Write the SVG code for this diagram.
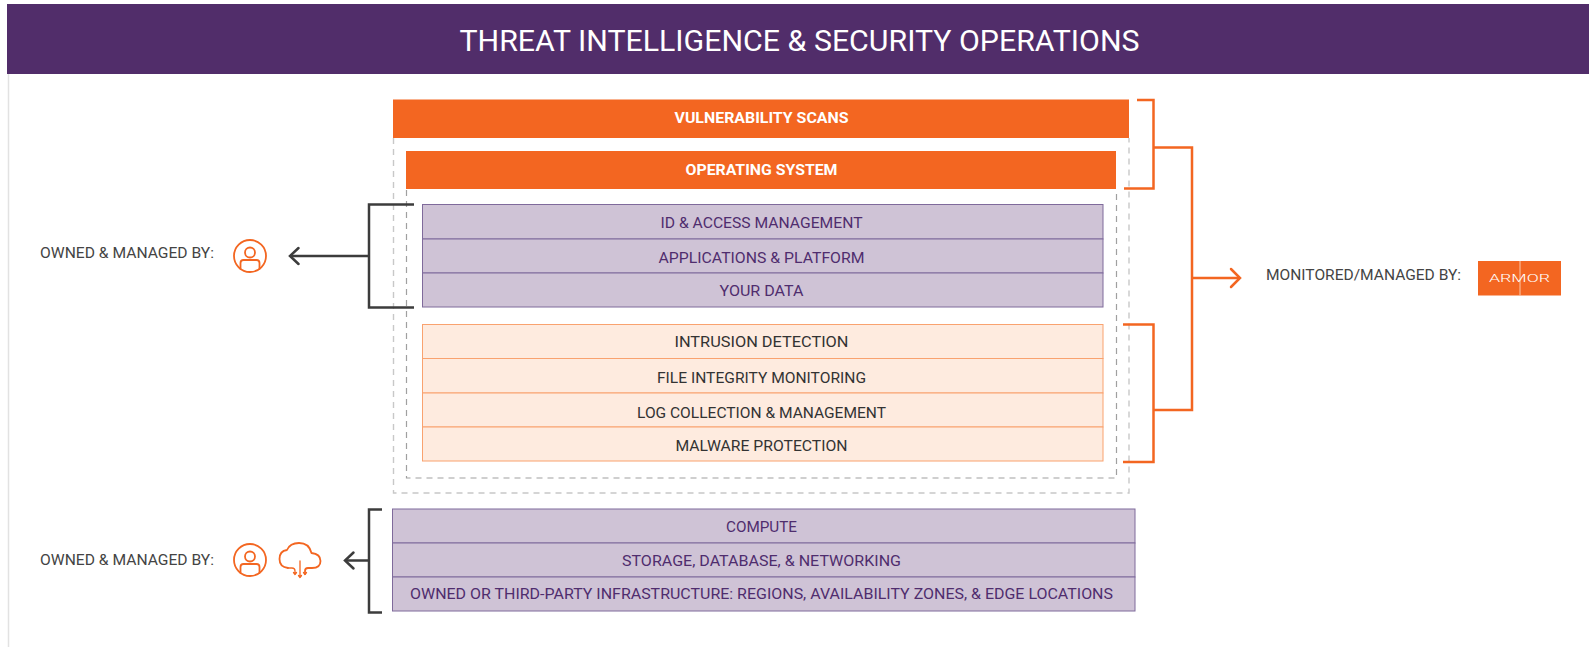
<svg xmlns="http://www.w3.org/2000/svg" width="1589" height="647" viewBox="0 0 1589 647">
<style>
text{font-family:"Roboto","Liberation Sans",sans-serif;text-anchor:middle}
.p{fill:#cfc3d6;stroke:#7f6a9b;stroke-width:1}
.o{fill:#feebdf;stroke:#f9a26f;stroke-width:1}
.pt{font-size:15px;fill:#4f2d6e}
.ot{font-size:15px;fill:#333}
.wt{font-size:15px;font-weight:700;fill:#fff}
.lb{font-size:14.500px;fill:#444;text-anchor:start}
.bk{fill:none;stroke:#3c3c3c;stroke-width:2.500}
.or{fill:none;stroke:#f36621;stroke-width:2.500}
.ic{fill:none;stroke:#f36621;stroke-width:1.800;stroke-linecap:round;stroke-linejoin:round}
.d1{fill:none;stroke:#c8c8c8;stroke-width:1.400;stroke-dasharray:6 5}
.d2{fill:none;stroke:#a0a0a0;stroke-width:1.200;stroke-dasharray:6 5}
</style>
<defs>
<g id="user"><circle r="16" cx="0" cy="0" class="ic"/><circle cx="0" cy="-3.500" r="5" class="ic"/><path class="ic" d="M-9.500 13V7Q-9.500 4 -6.500 4H6.500Q9.500 4 9.500 7V13"/></g>
</defs>
<rect width="1589" height="647" fill="#fff"/>
<path d="M8.500 74V647" stroke="#e2e2e2" stroke-width="1.500"/>
<g id="header"><rect x="7" y="4" width="1582" height="70" fill="#512d6a"/>
<text x="799.500" y="51" font-size="29" fill="#fff" textLength="680" lengthAdjust="spacingAndGlyphs">THREAT INTELLIGENCE &amp; SECURITY OPERATIONS</text></g>
<g id="dashes"><path class="d1" d="M393.500 138V493H1129V138"/><path class="d2" d="M406.500 190V478H1116.500V190"/></g>
<g id="vulnerability-scans"><rect x="393" y="99.500" width="736" height="38.500" fill="#f36621"/><text class="wt" x="761.500" y="123" textLength="174" lengthAdjust="spacingAndGlyphs">VULNERABILITY SCANS</text></g>
<g id="operating-system"><rect x="406" y="151" width="710" height="38" fill="#f36621"/><text class="wt" x="761.500" y="175" textLength="152" lengthAdjust="spacingAndGlyphs">OPERATING SYSTEM</text></g>
<g id="id-access"><rect class="p" x="422.500" y="204.500" width="680.500" height="34.500"/><text class="pt" x="761.500" y="227.500" textLength="202" lengthAdjust="spacingAndGlyphs">ID &amp; ACCESS MANAGEMENT</text></g>
<g id="applications"><rect class="p" x="422.500" y="239" width="680.500" height="34"/><text class="pt" x="761.500" y="263" textLength="206" lengthAdjust="spacingAndGlyphs">APPLICATIONS &amp; PLATFORM</text></g>
<g id="your-data"><rect class="p" x="422.500" y="273" width="680.500" height="34"/><text class="pt" x="761.500" y="296" textLength="84" lengthAdjust="spacingAndGlyphs">YOUR DATA</text></g>
<g id="intrusion"><rect class="o" x="422.500" y="324.500" width="680.500" height="34"/><text class="ot" x="761.500" y="347" textLength="174" lengthAdjust="spacingAndGlyphs">INTRUSION DETECTION</text></g>
<g id="fim"><rect class="o" x="422.500" y="358.500" width="680.500" height="34.500"/><text class="ot" x="761.500" y="382.500" textLength="209" lengthAdjust="spacingAndGlyphs">FILE INTEGRITY MONITORING</text></g>
<g id="log"><rect class="o" x="422.500" y="393" width="680.500" height="34"/><text class="ot" x="761.500" y="418" textLength="249" lengthAdjust="spacingAndGlyphs">LOG COLLECTION &amp; MANAGEMENT</text></g>
<g id="malware"><rect class="o" x="422.500" y="427" width="680.500" height="34"/><text class="ot" x="761.500" y="450.500" textLength="172" lengthAdjust="spacingAndGlyphs">MALWARE PROTECTION</text></g>
<g id="compute"><rect class="p" x="392.500" y="509" width="742.500" height="34"/><text class="pt" x="761.500" y="531.500" textLength="71" lengthAdjust="spacingAndGlyphs">COMPUTE</text></g>
<g id="storage"><rect class="p" x="392.500" y="543" width="742.500" height="34"/><text class="pt" x="761.500" y="566" textLength="279" lengthAdjust="spacingAndGlyphs">STORAGE, DATABASE, &amp; NETWORKING</text></g>
<g id="infrastructure"><rect class="p" x="392.500" y="577" width="742.500" height="34"/><text class="pt" x="761.500" y="599" textLength="703" lengthAdjust="spacingAndGlyphs">OWNED OR THIRD-PARTY INFRASTRUCTURE: REGIONS, AVAILABILITY ZONES, &amp; EDGE LOCATIONS</text></g>
<g id="connectors">
<path class="bk" d="M414 204.500H369V307.500H414M369 256H290"/><path class="bk" stroke-linecap="round" d="M298.500 248L290 256L298.500 264"/>
<path class="bk" d="M382 509.500H369V612.500H382M369 560.500H345"/><path class="bk" stroke-linecap="round" d="M353.500 552.500L345 560.500L353.500 568.500"/>
<path class="or" d="M1137 100H1153.500V188.500H1124M1153.500 147.500H1192V410H1153.500M1123 324.500H1153.500V462H1123M1192 278H1240"/><path class="or" stroke-linecap="round" d="M1231 269L1240 278L1231 287"/>
</g>
<g id="owner-top"><text class="lb" x="40" y="258" textLength="174" lengthAdjust="spacingAndGlyphs">OWNED &amp; MANAGED BY:</text><use href="#user" x="250" y="256"/></g>
<g id="owner-bottom"><text class="lb" x="40" y="565" textLength="174" lengthAdjust="spacingAndGlyphs">OWNED &amp; MANAGED BY:</text><use href="#user" x="250" y="560"/>
<path class="ic" d="M288 568Q279.500 567 279.500 559Q279.500 551 287 550Q290 543 299 543Q309 543 311.500 553Q320.500 554 320.500 561Q320.500 568 312 568H308Q305 568 305 571V574"/>
<path class="ic" stroke-width="1.300" style="stroke-width:1.300" d="M288 568H292Q295 568 295 571V574M300 561V577M293.500 572.500L295 574.500L296.500 572.500M303.500 572.500L305 574.500L306.500 572.500M298.500 575.500L300 577.500L301.500 575.500"/></g>
<g id="manager"><text class="lb" x="1266" y="280" textLength="195" lengthAdjust="spacingAndGlyphs">MONITORED/MANAGED BY:</text>
<rect x="1478" y="261" width="83" height="34.500" fill="#f36621"/><path d="M1520 261V295.500" stroke="#fbc7a8" stroke-width="1"/>
<text x="1519.500" y="282" font-size="10" font-weight="300" fill="#fff" textLength="61" lengthAdjust="spacingAndGlyphs">ARMOR</text></g>
</svg>
